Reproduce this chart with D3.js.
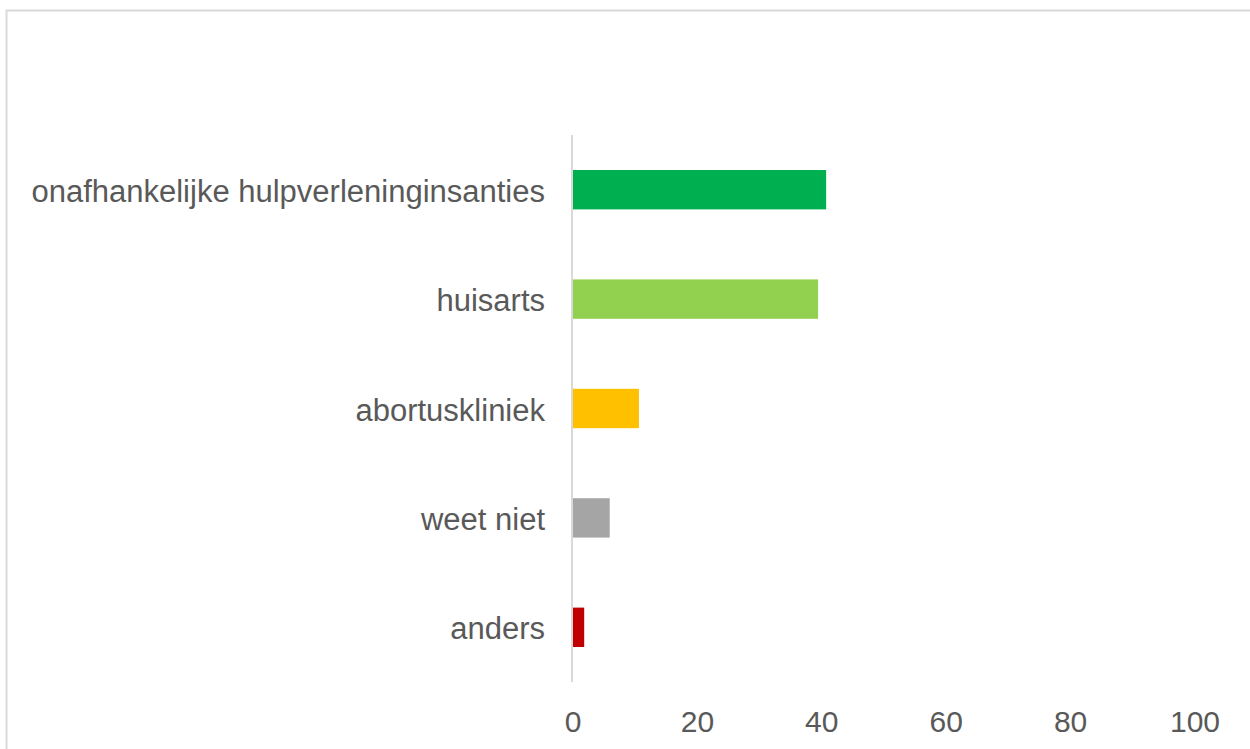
<!DOCTYPE html>
<html>
  <head>
    <meta charset="UTF-8">
    <title>Bar chart</title>
    <style>
      body { margin: 0; background: #fff; }
      svg { display: block; font-family: "Liberation Sans", Arial, sans-serif; }
    </style>
  </head>
  <body>
    <svg class="chart"></svg>
    <script src="https://d3js.org/d3.v7.min.js"></script>
    <script>

// data
var categories = ["onafhankelijke hulpverleninginsanties", "huisarts", "abortuskliniek", "weet niet", "anders"];
var values = [40.7, 39.4, 10.6, 5.9, 1.8];
var colors = ["#00b050", "#92d050", "#ffc000", "#a5a5a5", "#c00000"];
var ticks = [0, 20, 40, 60, 80, 100];

var width = 1250, height = 749;

var svg = d3.select("svg")
    .attr("width", width)
    .attr("height", height);

// chart frame
svg.append("rect")
    .attr("x", 6.5)
    .attr("y", 10.5)
    .attr("width", 1300)
    .attr("height", 800)
    .attr("fill", "none")
    .attr("stroke", "#d9d9d9")
    .attr("stroke-width", 2);

var x = d3.scaleLinear()
    .domain([0, 100])
    .range([573, 1195]);

var y = d3.scaleBand()
    .domain(categories)
    .range([135, 682])
    .paddingInner(0.64)
    .paddingOuter(0.32);

svg.append("g")
    .selectAll("rect")
    .data(values)
    .enter().append("rect")
      .attr("x", x(0))
      .attr("y", function(d, i) { return y(categories[i]); })
      .attr("width", function(d) { return x(d) - x(0); })
      .attr("height", y.bandwidth())
      .attr("fill", function(d, i) { return colors[i]; });

// vertical axis line
svg.append("line")
    .attr("x1", x(0) - 1)
    .attr("x2", x(0) - 1)
    .attr("y1", 135)
    .attr("y2", 682)
    .attr("stroke", "#d9d9d9")
    .attr("stroke-width", 2);

// category labels
svg.append("g")
    .selectAll("text")
    .data(categories)
    .enter().append("text")
      .attr("x", 545)
      .attr("y", function(d) { return y(d) + y.bandwidth() / 2 + 12; })
      .attr("text-anchor", "end")
      .attr("fill", "#595959")
      .attr("font-size", "31px")
      .text(function(d) { return d; });

// value axis labels
svg.append("g")
    .selectAll("text")
    .data(ticks)
    .enter().append("text")
      .attr("x", function(d) { return x(d); })
      .attr("y", 732)
      .attr("text-anchor", "middle")
      .attr("fill", "#595959")
      .attr("font-size", "30px")
      .text(function(d) { return d; });

    </script>
  </body>
</html>
